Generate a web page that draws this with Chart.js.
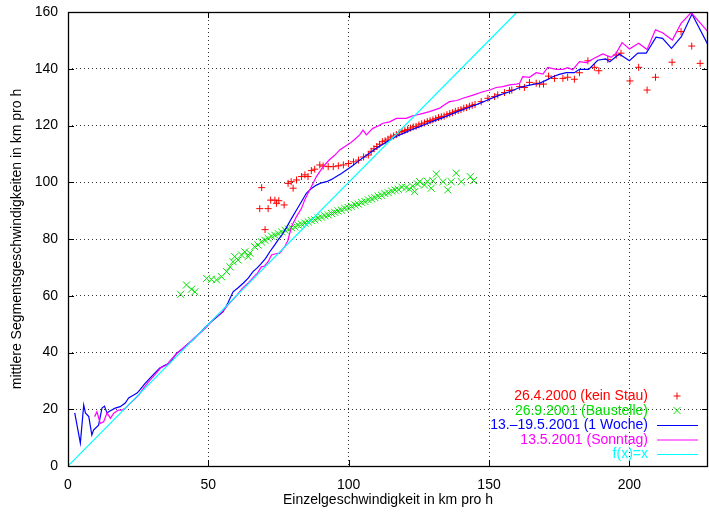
<!DOCTYPE html>
<html><head><meta charset="utf-8">
<script src="https://cdn.jsdelivr.net/npm/chart.js@4/dist/chart.umd.min.js"></script>
<style>html,body{margin:0;padding:0;background:#fff}#wrap{width:709px;height:512px}</style>
</head><body><div id="wrap"><canvas id="c" width="709" height="512"></canvas></div>
<script>
// ---- data ----
const xTicks = [0, 50, 100, 150, 200];
const yTicks = [0, 20, 40, 60, 80, 100, 120, 140, 160];
const xTitle = 'Einzelgeschwindigkeit in km pro h';
const yTitle = 'mittlere Segmentsgeschwindigkeiten in km pro h';
const seriesNames = ['26.4.2000 (kein Stau)', '26.9.2001 (Baustelle)', '13.–19.5.2001 (1 Woche)', '13.5.2001 (Sonntag)', 'f(x)=x'];

// red "+" : 26.4.2000 (kein Stau)
const redX = [68.3,69,70.2,71.3,72.2,73.7,74.3,75.1,77,78.4,79.5,80.2,81.4,83.2,84.4,85.5,86.7,87.9,89.7,90.9,92.7,94.5,96.3,98.1,99.9,101.7,103.5,105.3,107,108,109,110,111,112,113,114,115,116,117,118,119,120,121,122,123,124,125,126,127,128,129,130,131,132,133,134,135,136,137,138,139,140,141,142,143,144,145,147.2,149.6,152,153.1,155.5,157.3,158.1,160.9,162.6,164.4,166.8,168,169.4,171.2,173.3,176.3,178,180.4,182.2,185.2,187.5,189.1,192.3,195.3,197,200.2,203.3,206.3,209.3,215.2,218.4,222.2,225.2];
const redY = [90.7,98.1,83.3,90.7,93.7,93.7,92.6,93.5,92,99.6,100.2,97.9,100.8,102,102.6,102,104.1,104.6,106.1,105.7,105.5,105.5,105.8,106.1,106.6,107.2,107.8,108.9,109.6,110.9,111.8,112.6,113.4,114.3,114.6,115.2,115.9,116.3,116.8,117.4,117.9,118.2,118.6,119.1,119.5,119.7,120.2,120.6,120.9,121.4,121.7,122,122.4,122.8,123.1,123.3,123.8,124.2,124.5,125,125.3,125.6,126.1,126.3,126.8,127.1,127.4,128.4,129.6,130.2,130.8,131.6,132.3,132.5,133.7,133.4,135.2,134.9,134.6,134.6,137.4,136.6,136.6,137,136.3,138.6,142.8,140.5,139.3,143.3,144.8,145.5,135.7,140.5,132.5,137,142.3,153.1,148,141.9];

// green "x" : 26.9.2001 (Baustelle)
const greenX = [40.1,42.2,44,45.2,49.4,51.1,52.9,54.7,56.5,57.7,58.8,59.4,60.6,61.8,63,64.2,64.8,66.5,67.7,68.9,70.1,71.3,72.5,73.7,74.9,76.1,77.3,78.5,79.6,80.8,82,83.2,84.4,85.6,86.7,87.9,89.1,90.3,91.5,92.7,93.9,95,96.2,97.4,98.6,99.8,101,102.2,103.4,104.6,105.8,107,108.2,109.3,110.5,111.7,112.9,114.1,115.3,116.5,117.7,118.9,120.4,121.6,122.8,123.5,124.5,125.3,127,128,129.4,130,131.2,133.6,135.3,136.5,138.3,140.1,143.3,144.5];
const greenY = [60.5,63.8,62.3,61.4,66.1,65.8,65.6,66.7,68.5,70.2,72,73.8,72.6,74.4,75.5,73.8,75,77.3,77.9,79,79.6,80.2,81,81.3,81.9,82.5,83.1,83.5,84,84.3,84.9,85.2,85.6,86,86.5,86.8,87.4,87.7,88.2,88.5,89,89.4,89.9,90.2,90.8,91.1,91.5,92,92.3,92.9,93.2,93.8,94.1,94.6,95.1,95.4,96,96.3,96.9,97.3,97.5,98.3,98.1,97.6,98.6,96.7,99.4,100.2,99,100.3,97.9,100.5,102.9,100.2,97.3,100.2,103.2,100.2,102,100.6];

// blue line : 13.-19.5.2001 (1 Woche)
const blueX = [2.4,4.4,5.6,6.2,7.4,8.5,9.1,10.9,12.1,13,13.9,15.1,16.8,18.6,20.4,21.6,23.4,24.6,25.6,27.4,29.2,31,32.7,34.5,36.3,38.7,40.5,42.2,44.6,47,48.8,50.5,52.8,55.2,57,58.8,60.6,62.4,64.2,65.9,67.4,68.9,70.4,71.9,73.4,74.8,76.3,77.8,79.6,81.4,83.2,84.9,86.7,88.5,90.3,92.1,93.9,95.6,97.4,99.2,101.5,103.9,106.5,109.2,111.9,114.6,117.3,120,122.6,125.3,128,130.6,133.3,135.9,138.6,141.3,144,146.6,149.3,151.9,153.7,157.3,160.9,164.4,168,170.4,172.7,175,177.5,180.4,182.2,185.5,188.7,191.5,193,196.4,200,203,206,209.5,211.8,215,218.5,222.3,228];
const blueY = [18.7,8.1,21.5,18.7,17.4,10.9,12.7,14.4,20.4,21.1,18.7,19.5,20.4,20.9,22.2,24,25,25.7,26.8,29,31,32.8,34.5,35.5,36.3,39.8,41,42.6,44.5,46.9,48.8,50.4,52.3,54.3,57.5,61.4,62.8,64.4,66.2,68.5,69.8,71.4,73.2,75.5,77.6,79.6,81.5,84,87.2,90.2,93.2,96.1,97.8,99,99.8,100.2,101,102,103.1,104.3,105.9,107.8,109.6,111.5,113.2,114.9,116.3,117.5,118.6,119.6,120.7,121.7,122.7,123.7,124.8,125.8,126.8,127.8,128.9,130,130.7,131.9,133.4,134.2,134.9,136,137.2,138,138.6,138.6,139.8,139.8,143,143.5,142.5,145.2,142.8,145.5,145.5,151.1,150.7,147.2,151.3,159.3,148.4];

// magenta line : 13.5.2001 (Sonntag)
const magX = [9.5,10.3,11.5,12.7,13.9,15.1,16.3,18,19.2,20.4,22,23.5,25.2,27,29,31,33,35,37,39,41,43,45,47,49,51,53,55,57,60,62,64,66,67.5,68.9,70,71.3,72.5,74,75.4,77.2,78.3,79.6,81.4,83.2,84.3,85.5,86.7,88.5,90.9,93.2,95,96.8,98.5,100.4,102,103.9,105.1,106.3,108.6,110.5,112.2,114.6,117,120.5,122.5,124.1,126.5,128.8,132.4,134,135.9,138.5,140.7,144,147.8,150.2,152.6,154.9,157.3,159.7,160.9,162,164.4,166.8,169.2,170.9,173.9,176.3,178,179.8,182.2,184.6,187.5,190.5,193.5,195.3,197.4,200,203.3,206.3,209.3,211.8,215.3,218.4,222,228];
const magY = [17.4,19.1,15,15.6,18.7,16.8,18.6,19.7,19.7,20.3,22,23.3,25,27.5,30,32.2,34.6,35.5,37.8,39.9,41.6,43.3,45.2,46.9,48.6,50.9,52.8,54.3,56.8,60,62.5,64.3,66.5,68,70.2,70.5,72,74.4,74.8,75,77.3,79.4,84.3,87.9,90.8,93.7,96.1,98.4,102,105.5,108,109.5,111.4,112.5,113.7,115,116.7,118.4,116.7,119,119.8,120.8,121.3,122.5,122.5,123.3,123.7,124.3,124.9,126.1,127.2,128.4,128.8,129.6,130.6,131.9,132.5,133.4,133.7,134.3,134.6,134.9,137.2,137,138.6,138.1,140.5,139.8,139.8,140.4,139.6,142.5,142.2,143.7,145.2,144,145.5,149.2,147,149,146.8,153.7,152.7,150.1,156,159.8,153];

// cyan line : f(x)=x
const identX = [0, 160];
const identY = [0, 160];

const pts = (xs, ys) => xs.map((x, i) => ({x, y: ys[i]}));
const COL = {red:'#ff0000', green:'#00e000', blue:'#0000ff', mag:'#ff00ff', cyan:'#00ffff'};
const FONT = '"Liberation Sans", Arial, Helvetica, sans-serif';
const FS = 14;

const framePlugin = {
  id: 'frame',
  afterDatasetsDraw(chart) {
    const {ctx, chartArea: a, scales: {x, y}} = chart;
    ctx.save();
    ctx.strokeStyle = '#000'; ctx.lineWidth = 1;
    ctx.beginPath();
    xTicks.forEach(v => { const p = Math.round(x.getPixelForValue(v)) + 0.5;
      ctx.moveTo(p, a.bottom); ctx.lineTo(p, a.bottom - 6);
      ctx.moveTo(p, a.top); ctx.lineTo(p, a.top + 6); });
    yTicks.forEach(v => { const p = Math.round(y.getPixelForValue(v)) + 0.5;
      ctx.moveTo(a.left, p); ctx.lineTo(a.left + 6, p);
      ctx.moveTo(a.right, p); ctx.lineTo(a.right - 6, p); });
    ctx.stroke();
    ctx.lineWidth = 1.3;
    ctx.strokeRect(Math.round(a.left) + 0.5, Math.round(a.top) + 0.5, Math.round(a.right - a.left) - 1, Math.round(a.bottom - a.top));
    // legend
    const cols = [COL.red, COL.green, COL.blue, COL.mag, COL.cyan];
    const rows = [396, 410.5, 425, 439.5, 454];
    ctx.font = FS + 'px ' + FONT; ctx.textAlign = 'right'; ctx.textBaseline = 'middle';
    seriesNames.forEach((n, i) => {
      ctx.fillStyle = cols[i]; ctx.fillText(n, 648, rows[i] + 0.5);
    });
    ctx.lineWidth = 1;
    ctx.strokeStyle = COL.red; ctx.beginPath();
    ctx.moveTo(673.5, rows[0]); ctx.lineTo(680.5, rows[0]); ctx.moveTo(677, rows[0] - 3.5); ctx.lineTo(677, rows[0] + 3.5); ctx.stroke();
    ctx.strokeStyle = COL.green; ctx.beginPath();
    ctx.moveTo(673.5, rows[1] - 3.5); ctx.lineTo(680.5, rows[1] + 3.5); ctx.moveTo(673.5, rows[1] + 3.5); ctx.lineTo(680.5, rows[1] - 3.5); ctx.stroke();
    [COL.blue, COL.mag, COL.cyan].forEach((c, k) => {
      ctx.strokeStyle = c; ctx.beginPath(); ctx.moveTo(657, rows[k + 2] + 0.5); ctx.lineTo(698, rows[k + 2] + 0.5); ctx.stroke();
    });
    ctx.restore();
  }
};

new Chart(document.getElementById('c'), {
  type: 'scatter',
  data: { datasets: [
    {label: seriesNames[4], data: pts(identX, identY), showLine: true, borderColor: COL.cyan, borderWidth: 1.2, pointRadius: 0, order: 1},
    {label: seriesNames[3], data: pts(magX, magY), showLine: true, borderColor: COL.mag, borderWidth: 1.2, pointRadius: 0, order: 2},
    {label: seriesNames[2], data: pts(blueX, blueY), showLine: true, borderColor: COL.blue, borderWidth: 1.2, pointRadius: 0, order: 3},
    {label: seriesNames[1], data: pts(greenX, greenY), showLine: false, pointStyle: 'crossRot', pointRadius: 5, borderColor: COL.green, backgroundColor: COL.green, borderWidth: 1, order: 4},
    {label: seriesNames[0], data: pts(redX, redY), showLine: false, pointStyle: 'cross', pointRadius: 3.5, borderColor: COL.red, backgroundColor: COL.red, borderWidth: 1, order: 5}
  ]},
  options: {
    responsive: false, animation: false,
    layout: {autoPadding: false, padding: {top: 12, right: 1, left: 0, bottom: 0}},
    plugins: {legend: {display: false}, tooltip: {enabled: false}},
    scales: {
      x: {type: 'linear', min: 0, max: 228,
        afterFit(s) { s.height = 46; s.paddingLeft = 0; s.paddingRight = 0; },
        afterBuildTicks(s) { s.ticks = xTicks.map(v => ({value: v})); },
        ticks: {color: '#000', padding: 11, font: {family: FONT, size: FS}, maxRotation: 0},
        grid: {color: '#333', lineWidth: 1, drawTicks: false},
        border: {display: false, dash: [1, 3]},
        title: {display: true, text: xTitle, color: '#000', font: {family: FONT, size: FS}, padding: {top: 0, bottom: 3}}
      },
      y: {type: 'linear', min: 0, max: 160,
        afterFit(s) { s.width = 68; s.paddingTop = 0; s.paddingBottom = 0; },
        afterBuildTicks(s) { s.ticks = yTicks.map(v => ({value: v})); },
        ticks: {color: '#000', padding: 10, font: {family: FONT, size: FS}},
        grid: {color: '#333', lineWidth: 1, drawTicks: false},
        border: {display: false, dash: [1, 3]},
        title: {display: true, text: yTitle, color: '#000', font: {family: FONT, size: FS}, padding: {top: 9, bottom: 0}}
      }
    }
  },
  plugins: [framePlugin]
});
</script></body></html>
